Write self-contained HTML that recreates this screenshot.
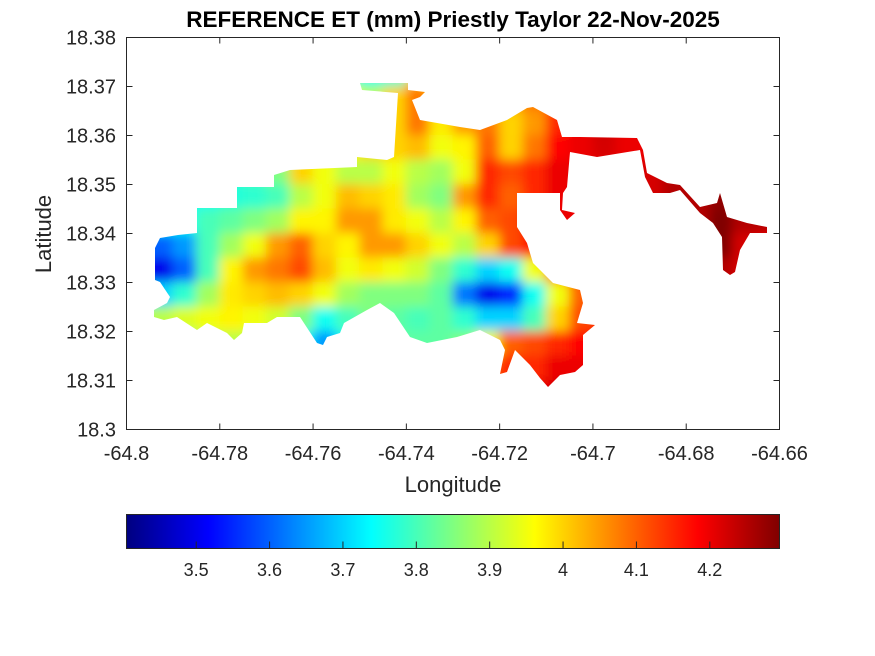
<!DOCTYPE html>
<html><head><meta charset="utf-8"><style>
html,body{margin:0;padding:0;background:#fff;}
svg{display:block;font-family:"Liberation Sans",Arial,sans-serif;}
</style></head><body>
<svg id="chart" width="875" height="656" viewBox="0 0 875 656">
<defs>
<filter id="blur" x="-5%" y="-5%" width="110%" height="110%"><feGaussianBlur stdDeviation="5.5"/></filter>
<clipPath id="landClip"><path d="M155,248 L160,238 L178,235 L197,233 L197,208 L237,208 L237,187 L274,187 L274,175 L290,170 L357,167 L357,157 L387,160 L394,157 L398,93 L362,90 L360,83 L408,83 L408,90 L425,92 L420,97 L412,100 L420,120 L460,127 L480,130 L507,120 L527,108 L533,107 L557,120 L562,137 L580,137 L637,138 L643,150 L647,173 L657,178 L667,183 L680,185 L700,207 L717,203 L720,193 L727,217 L747,223 L767,227 L767,233 L750,233 L740,250 L735,272 L730,275 L723,270 L722,237 L713,223 L700,213 L680,190 L670,193 L653,193 L645,177 L640,150 L597,157 L570,152 L567,187 L563,193 L562,210 L575,213 L567,220 L560,210 L560,193 L517,193 L517,227 L527,243 L533,263 L553,283 L580,290 L583,303 L577,323 L595,325 L583,335 L583,365 L575,372 L560,375 L548,387 L540,378 L530,365 L515,350 L507,372 L500,374 L505,350 L500,340 L480,330 L457,337 L427,343 L410,337 L394,313 L380,303 L367,310 L344,323 L340,333 L327,337 L323,345 L317,343 L300,317 L277,317 L267,323 L244,323 L242,333 L234,340 L227,333 L207,323 L197,330 L177,317 L164,320 L154,317 L154,310 L167,303 L170,297 L160,282 L155,280 Z"/></clipPath>
<linearGradient id="jetGrad" x1="0" y1="0" x2="1" y2="0">
<stop offset="0" stop-color="#000080"/><stop offset="0.125" stop-color="#0000ff"/><stop offset="0.375" stop-color="#00ffff"/><stop offset="0.625" stop-color="#ffff00"/><stop offset="0.875" stop-color="#ff0000"/><stop offset="1" stop-color="#800000"/>
</linearGradient>
</defs>
<text x="453" y="27" text-anchor="middle" font-size="22.5" font-weight="bold" fill="#000">REFERENCE ET (mm) Priestly Taylor 22-Nov-2025</text>
<rect x="126.5" y="37.5" width="653" height="392" fill="#fff"/>
<g clip-path="url(#landClip)"><g id="cells" filter="url(#blur)"></g></g>
<rect x="126.5" y="37.5" width="653" height="392" fill="none" stroke="#262626" stroke-width="1"/>
<g id="xticks"></g>
<g id="yticks"></g>
<text x="453" y="492" text-anchor="middle" font-size="22" fill="#262626">Longitude</text>
<text transform="translate(51,234) rotate(-90)" text-anchor="middle" font-size="22" fill="#262626">Latitude</text>
<rect x="126.5" y="514.5" width="653" height="34" fill="url(#jetGrad)" stroke="#262626" stroke-width="1"/>
<g id="cticks"></g>
</svg>
<script>
const lonMin=-64.8, lonMax=-64.66, latMin=18.3, latMax=18.38;
const cellStep=0.005;
const xTickVals=[-64.8,-64.78,-64.76,-64.74,-64.72,-64.7,-64.68,-64.66];
const xTickLabels=["-64.8","-64.78","-64.76","-64.74","-64.72","-64.7","-64.68","-64.66"];
const yTickVals=[18.3,18.31,18.32,18.33,18.34,18.35,18.36,18.37,18.38];
const yTickLabels=["18.3","18.31","18.32","18.33","18.34","18.35","18.36","18.37","18.38"];
const cTickVals=[3.5,3.6,3.7,3.8,3.9,4.0,4.1,4.2];
const cTickLabels=["3.5","3.6","3.7","3.8","3.9","4","4.1","4.2"];
const cMin=3.405, cMax=4.295;
// ET values, rows from north (18.38) to south, columns from west (-64.8) eastward, 0.005 deg cells
const row0=[3.8,3.8,3.8,3.8,3.8,3.8,3.8,3.8,3.8,3.8,3.75,3.77,4.0,4.02,4.05,4.05,4.1,4.15,4.2,4.2,4.22,4.22,4.22,4.25,4.25,4.28,4.3,4.3];
const row1=[3.8,3.8,3.8,3.8,3.8,3.8,3.8,3.8,3.8,3.8,3.75,3.77,4.0,4.02,4.05,4.05,4.1,4.15,4.2,4.2,4.22,4.22,4.22,4.25,4.25,4.28,4.3,4.3];
const row2=[3.8,3.8,3.8,3.8,3.8,3.8,3.8,3.85,3.9,3.95,3.9,4.0,4.08,4.0,4.03,4.05,4.05,4.08,4.12,4.2,4.22,4.22,4.22,4.25,4.25,4.28,4.3,4.3];
const row3=[3.8,3.8,3.8,3.8,3.8,3.8,3.85,3.9,3.95,3.95,3.95,4.0,4.08,3.98,4.05,4.08,4.0,4.05,4.15,4.2,4.23,4.2,4.2,4.25,4.25,4.28,4.3,4.3];
const row4=[3.8,3.8,3.8,3.8,3.8,3.82,3.85,3.9,3.95,3.97,4.0,4.0,4.02,3.95,3.97,4.1,4.0,4.08,4.18,4.2,4.22,4.2,4.2,4.22,4.25,4.28,4.3,4.3];
const row5=[3.8,3.8,3.8,3.8,3.78,3.8,3.85,4.0,3.95,3.9,3.9,3.95,3.9,3.88,3.95,4.15,4.12,4.15,4.2,4.2,4.2,4.2,4.22,4.25,4.25,4.28,4.3,4.3];
const row6=[3.75,3.75,3.75,3.75,3.77,3.78,3.8,3.9,3.95,4.02,4.0,3.98,3.88,3.85,4.05,4.15,4.1,4.15,4.2,4.2,4.2,4.2,4.22,4.25,4.25,4.28,4.25,4.25];
const row7=[3.75,3.75,3.75,3.8,3.82,3.85,3.88,3.97,3.97,4.05,4.05,3.98,3.95,3.9,3.97,4.1,4.12,4.2,4.2,4.2,4.2,4.2,4.22,4.25,4.25,4.3,4.25,4.25];
const row8=[3.6,3.6,3.65,3.8,3.88,3.95,4.05,4.1,4.0,3.97,4.05,4.05,4.0,3.95,3.9,4.0,4.12,4.18,4.2,4.2,4.2,4.2,4.22,4.25,4.25,4.3,4.22,4.2];
const row9=[3.5,3.5,3.6,3.8,3.97,4.05,4.08,4.12,4.02,3.95,3.98,3.95,3.92,3.85,3.78,3.7,3.75,3.95,4.1,4.15,4.2,4.2,4.2,4.2,4.2,4.25,4.22,4.2];
const row10=[3.7,3.7,3.78,3.88,3.98,4.0,4.02,4.0,3.95,3.88,3.85,3.85,3.85,3.82,3.62,3.5,3.55,3.75,3.95,4.1,4.15,4.15,4.2,4.2,4.2,4.2,4.2,4.2];
const row11=[3.88,3.9,3.93,3.95,3.97,3.95,3.92,3.85,3.75,3.8,3.85,3.82,3.8,3.82,3.78,3.7,3.7,3.8,4.0,4.12,4.15,4.15,4.2,4.2,4.2,4.2,4.2,4.2];
const row12=[3.85,3.85,3.85,3.9,3.9,3.9,3.85,3.75,3.65,3.75,3.8,3.82,3.82,3.82,3.85,3.95,4.1,4.12,4.15,4.18,4.2,4.2,4.2,4.2,4.2,4.2,4.2,4.2];
const row13=[3.85,3.85,3.85,3.9,3.9,3.9,3.85,3.75,3.7,3.75,3.8,3.82,3.82,3.85,3.95,4.1,4.15,4.15,4.2,4.2,4.2,4.2,4.2,4.2,4.2,4.2,4.2,4.2];
const row14=[3.85,3.85,3.85,3.9,3.9,3.9,3.85,3.75,3.7,3.75,3.8,3.82,3.82,3.85,3.95,4.1,4.15,4.2,4.22,4.2,4.2,4.2,4.2,4.2,4.2,4.2,4.2,4.2];
const row15=[3.85,3.85,3.85,3.9,3.9,3.9,3.85,3.75,3.7,3.75,3.8,3.82,3.82,3.85,3.95,4.1,4.15,4.2,4.22,4.2,4.2,4.2,4.2,4.2,4.2,4.2,4.2,4.2];
const grid=[row0,row1,row2,row3,row4,row5,row6,row7,row8,row9,row10,row11,row12,row13,row14,row15];

const NS='http://www.w3.org/2000/svg';
const X0=126.5,X1=779.5,Y0=429.5,Y1=37.5;
function xScale(lon){return X0+(lon-lonMin)/(lonMax-lonMin)*(X1-X0);}
function yScale(lat){return Y0-(lat-latMin)/(latMax-latMin)*(Y0-Y1);}
function cScale(v){return X0+(v-cMin)/(cMax-cMin)*(X1-X0);}
function jet(v){
  let t=(v-cMin)/(cMax-cMin); t=Math.max(0,Math.min(1,t));
  const f=(a)=>Math.max(0,Math.min(1,1.5-Math.abs(4*t-a)));
  const r=f(3),g=f(2),b=f(1);
  return 'rgb('+Math.round(r*255)+','+Math.round(g*255)+','+Math.round(b*255)+')';
}
const cells=document.getElementById('cells');
grid.forEach((row,j)=>{
  row.forEach((v,i)=>{
    const lonA=lonMin+i*cellStep, latA=latMax-j*cellStep;
    const x=xScale(lonA), y=yScale(latA);
    const w=xScale(lonA+cellStep)-x, h=yScale(latA-cellStep)-y;
    const r=document.createElementNS(NS,'rect');
    r.setAttribute('x',x-0.5);r.setAttribute('y',y-0.5);
    r.setAttribute('width',w+1);r.setAttribute('height',h+1);
    r.setAttribute('fill',jet(v));
    
    
    cells.appendChild(r);
  });
});
function mk(tag,attrs,parent,text){const e=document.createElementNS(NS,tag);for(const k in attrs)e.setAttribute(k,attrs[k]);if(text!==undefined)e.textContent=text;parent.appendChild(e);return e;}
const xg=document.getElementById('xticks');
xTickVals.forEach((v,i)=>{
  const x=xScale(v);
  const t1=mk('line',{x1:x,x2:x,y1:Y0,y2:Y0-6,stroke:'#262626'},xg);
  
  
  const t2=mk('line',{x1:x,x2:x,y1:Y1,y2:Y1+6,stroke:'#262626'},xg);
  
  
  const l=mk('text',{x:x,y:460,'text-anchor':'middle','font-size':20,fill:'#262626'},xg,xTickLabels[i]);
  
  
});
const yg=document.getElementById('yticks');
yTickVals.forEach((v,i)=>{
  const y=yScale(v);
  const t1=mk('line',{x1:X0,x2:X0+6,y1:y,y2:y,stroke:'#262626'},yg);
  
  
  const t2=mk('line',{x1:X1,x2:X1-6,y1:y,y2:y,stroke:'#262626'},yg);
  
  
  const l=mk('text',{x:116,y:y+7,'text-anchor':'end','font-size':20,fill:'#262626'},yg,yTickLabels[i]);
  
  
});
const cg=document.getElementById('cticks');
cTickVals.forEach((v,i)=>{
  const x=cScale(v);
  const t=mk('line',{x1:x,x2:x,y1:548.5,y2:541.5,stroke:'#262626'},cg);
  
  
  const l=mk('text',{x:x,y:576,'text-anchor':'middle','font-size':18,fill:'#262626'},cg,cTickLabels[i]);
  
  
});
</script>
</body></html>
